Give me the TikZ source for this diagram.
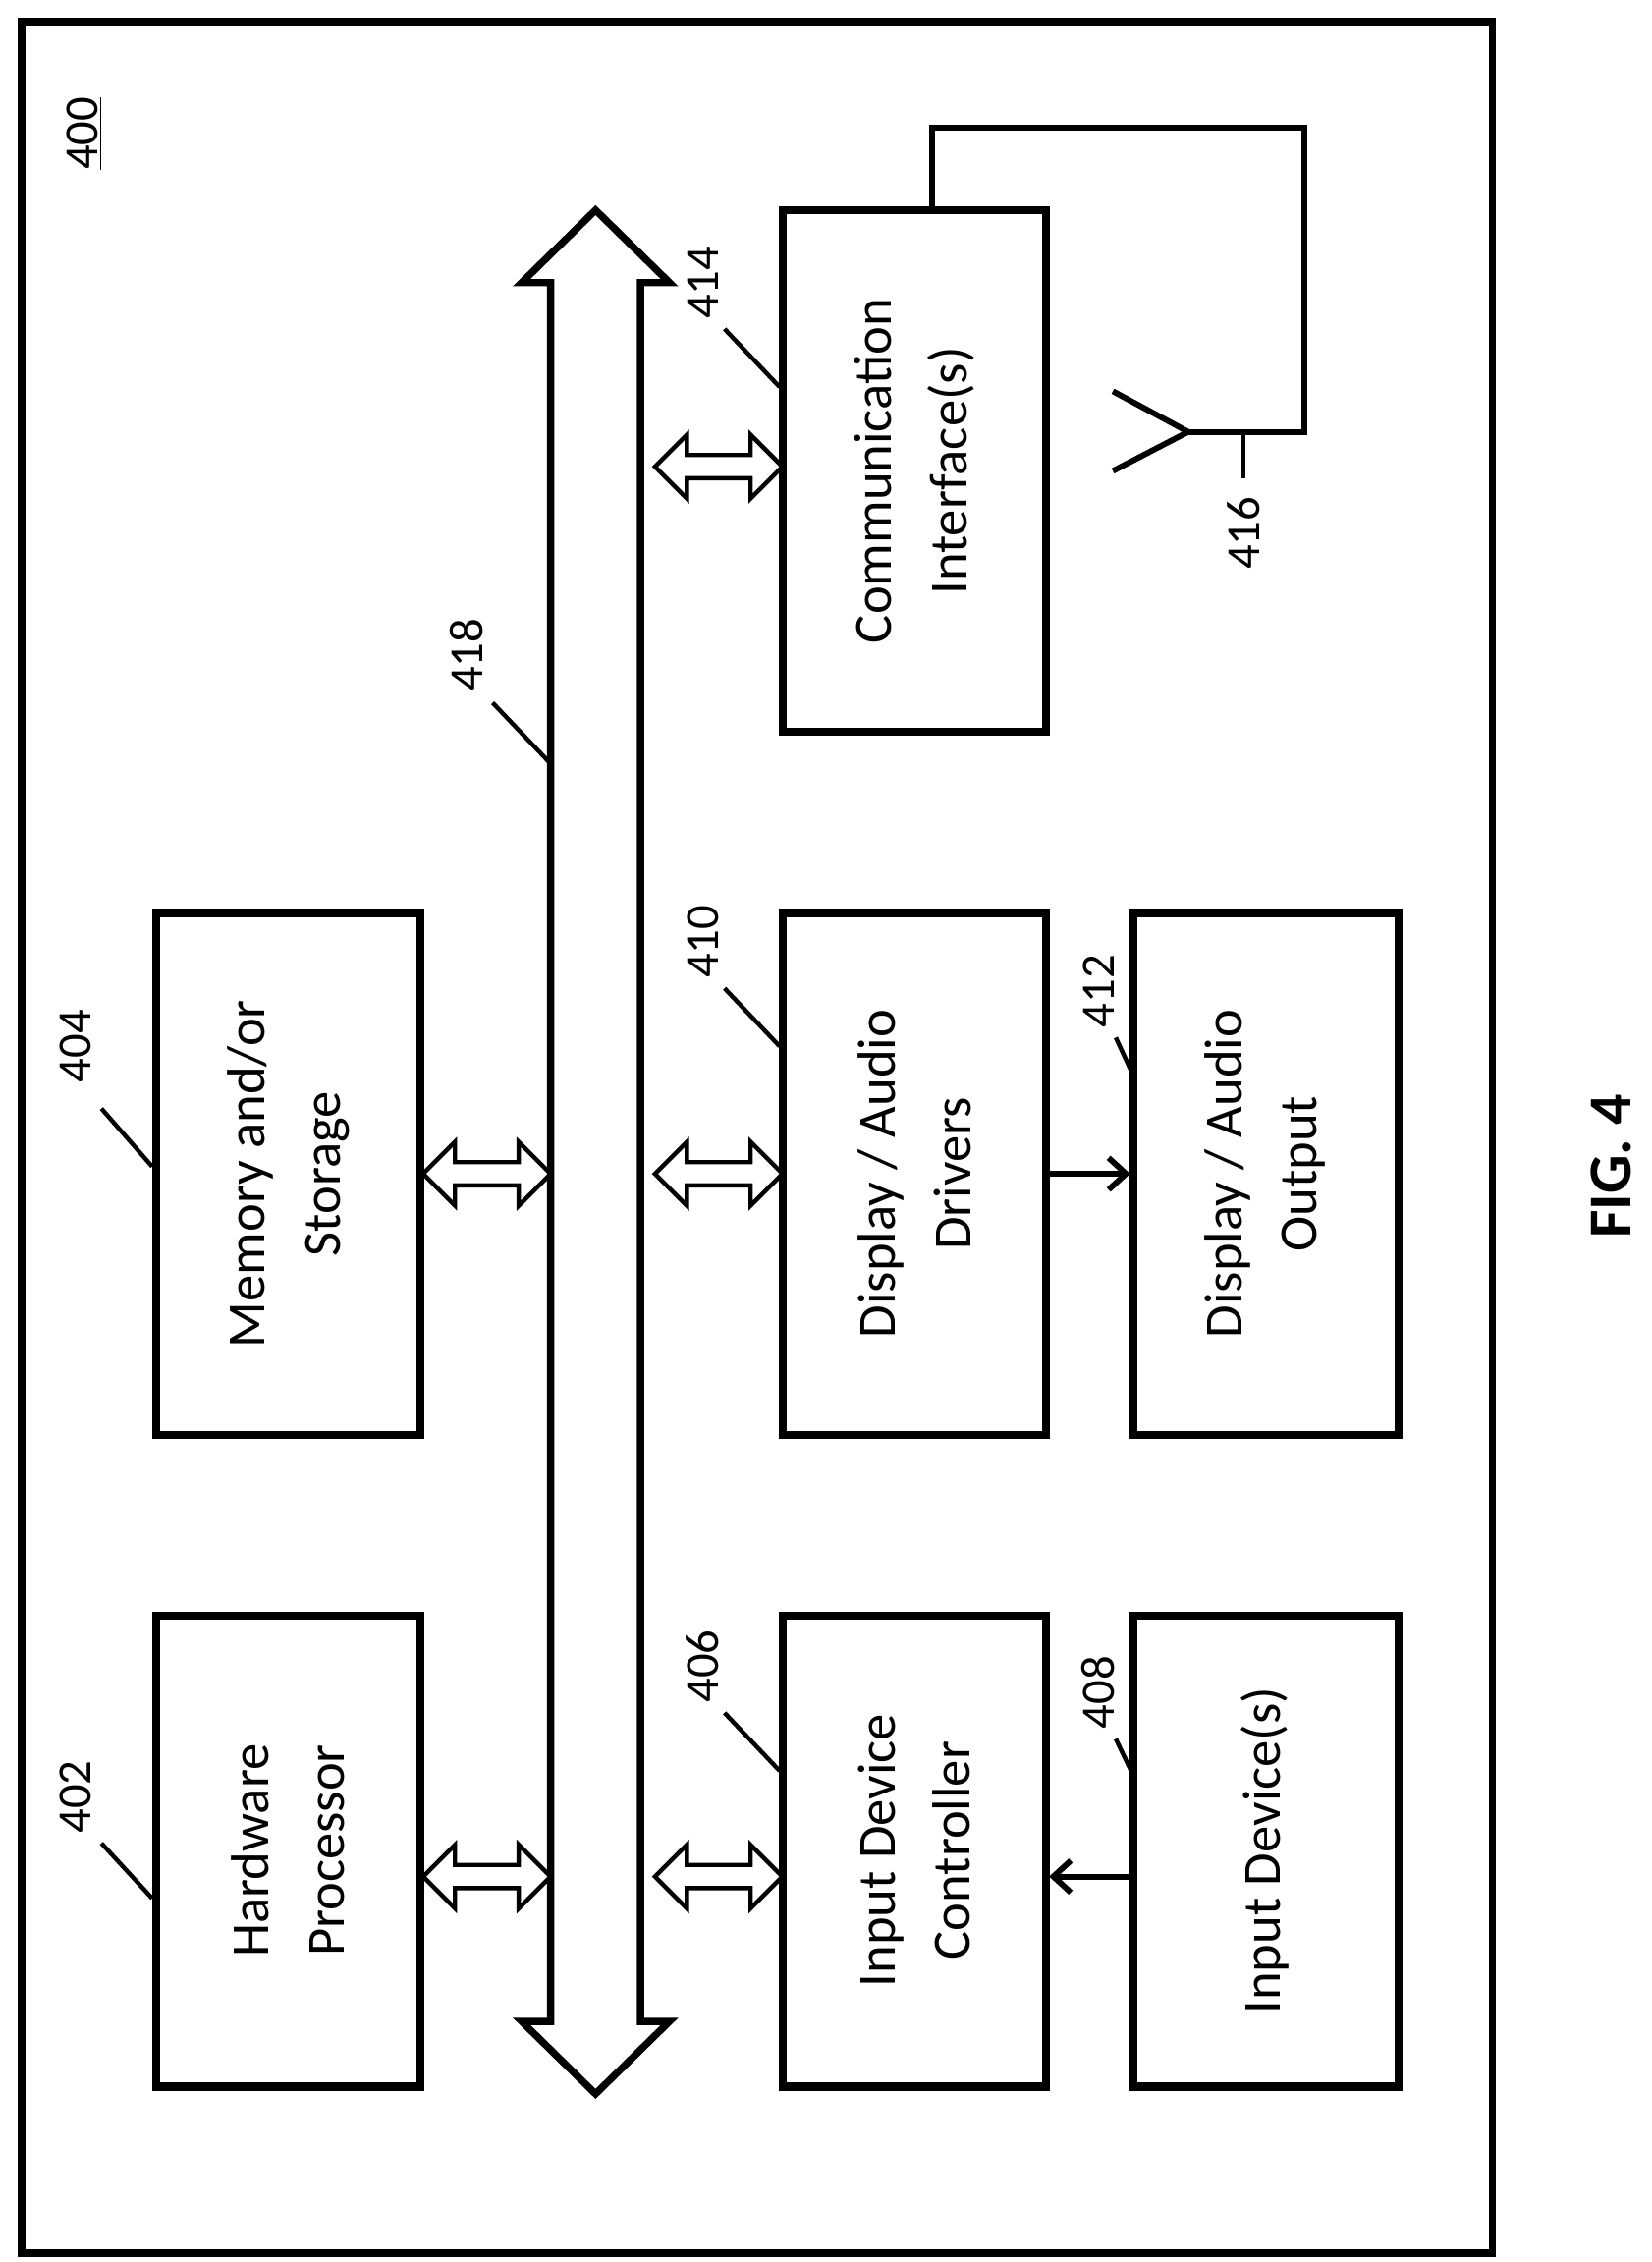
\documentclass[tikz,border=0pt]{standalone}
\usepackage{fontspec}
\setmainfont{Carlito}
\usetikzlibrary{arrows.meta}
\begin{document}
\begin{tikzpicture}[x=1pt,y=-1pt,
 box/.style={draw,line width=5.5pt},
 lbl/.style={rotate=90,font=\fontsize{37}{52}\selectfont,align=center},
 num/.style={rotate=90,font=\fontsize{33}{38}\selectfont},
 lead/.style={line width=3pt},
 dbl/.style={line width=3pt,fill=white,line join=miter}]
\useasboundingbox (0,0) rectangle (1140,1561);
\draw[line width=5pt] (15,15) rectangle (1030,1555);
\node[num] at (58,92) {\underline{400}};
% boxes
\draw[box] (108,1115) rectangle (290,1440);
\node[lbl] at (199,1277) {Hardware\\Processor};
\draw[box] (108,630) rectangle (290,990);
\node[lbl] at (199,810) {Memory and/or\\Storage};
\draw[box] (540,1115) rectangle (722,1440);
\node[lbl] at (631,1277) {Input Device\\Controller};
\draw[box] (540,630) rectangle (722,990);
\node[lbl] at (631,810) {Display / Audio\\Drivers};
\draw[box] (540,145) rectangle (722,505);
\node[lbl] at (631,325) {Communication\\Interface(s)};
\draw[box] (782,1115) rectangle (965,1440);
\node[lbl] at (873,1277) {Input Device(s)};
\draw[box] (782,630) rectangle (965,990);
\node[lbl] at (873,810) {Display / Audio\\Output};
% bus
\draw[line width=5pt,line join=miter] (411,145) -- (462,195) -- (442,195) -- (442,1395) -- (462,1395) -- (411,1445) -- (360,1395) -- (380,1395) -- (380,195) -- (360,195) -- cycle;
% small double arrows
\newcommand\dblh[3]{\draw[dbl] (#1,#3) -- (#1+22,#3-22) -- (#1+22,#3-8) -- (#2-22,#3-8) -- (#2-22,#3-22) -- (#2,#3) -- (#2-22,#3+22) -- (#2-22,#3+8) -- (#1+22,#3+8) -- (#1+22,#3+22) -- cycle;}
\dblh{292}{380}{1295}
\dblh{292}{380}{810}
\dblh{452}{540}{1295}
\dblh{452}{540}{810}
\dblh{452}{540}{322}
% solid arrows
\draw[line width=4pt,-{Straight Barb[length=12pt,width=22pt]}] (782,1295) -- (724,1295);
\draw[line width=4pt,-{Straight Barb[length=12pt,width=22pt]}] (722,810) -- (780,810);
% antenna
\draw[line width=4pt,line join=miter] (643,145) -- (643,88) -- (900,88) -- (900,298) -- (820,298);
\draw[line width=4pt] (768,270) -- (820,298) -- (768,325);
\draw[lead] (858,298) -- (858,330);
\node[num] at (858,368) {416};
% labels
\draw[lead] (105,1310) -- (70,1272); \node[num] at (52,1240) {402};
\draw[lead] (105,805) -- (70,765); \node[num] at (52,722) {404};
\draw[lead] (538,1222) -- (500,1182); \node[num] at (485,1150) {406};
\draw[lead] (782,1225) -- (770,1200); \node[num] at (758,1168) {408};
\draw[lead] (538,722) -- (500,682); \node[num] at (485,650) {410};
\draw[lead] (782,742) -- (770,716); \node[num] at (758,684) {412};
\draw[lead] (538,267) -- (500,227); \node[num] at (485,195) {414};
\draw[lead] (380,527) -- (340,485); \node[num] at (322,452) {418};
\node[rotate=90,font=\bfseries\fontsize{42}{48}\selectfont] at (1112,805) {FIG. 4};
\end{tikzpicture}
\end{document}
